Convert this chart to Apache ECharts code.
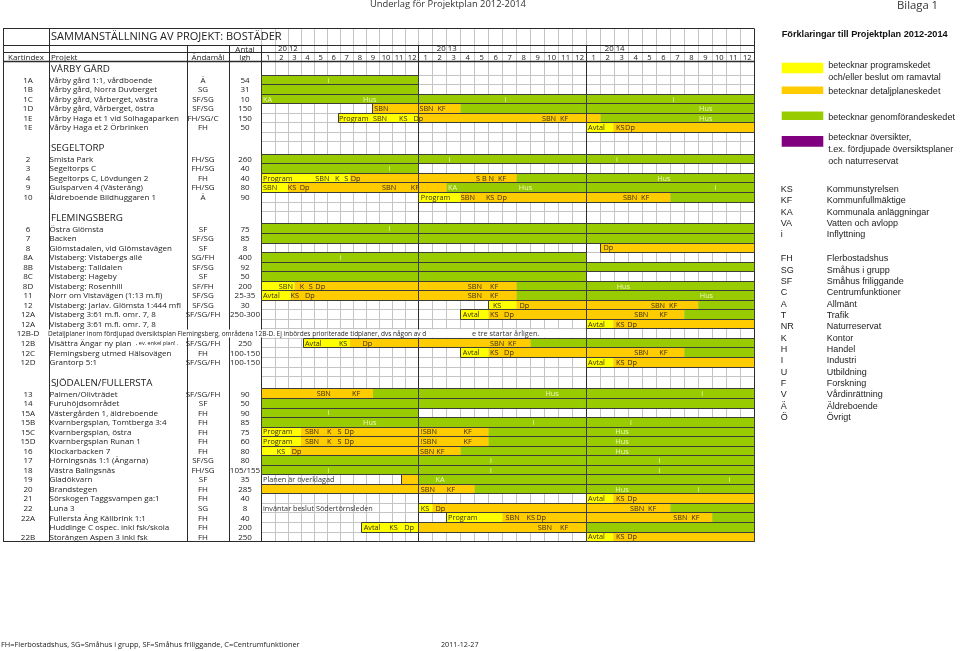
<!DOCTYPE html>
<html>
<head>
<meta charset="utf-8">
<script src="https://cdn.jsdelivr.net/npm/echarts@6/dist/echarts.min.js"></script>
<style>
  html, body { margin: 0; padding: 0; background: #fff; }
  #chart { width: 960px; height: 651px; }
</style>
</head>
<body>
<div id="chart"></div>
<script>
// header
const years = ['20 12', '20 13', '20 14'];
const months = ['1', '2', '3', '4', '5', '6', '7', '8', '9', '10', '11', '12'];

// table rows
const kartindex = ['', '1A', '1B', '1C', '1D', '1E', '1E', '',
  '', '2', '3', '4', '9', '10', '',
  '', '6', '7', '8', '8A', '8B', '8C', '8D', '11', '12', '12A', '12A', '12B-D', '12B', '12C', '12D', '',
  '', '13', '14', '15A', '15B', '15C', '15D', '16', '17', '18', '19', '20', '21', '22', '22A', '', '22B'];
const projekt = ['VÅRBY GÅRD', 'Vårby gård 1:1, vårdboende', 'Vårby gård, Norra Duvberget', 'Vårby gård, Vårberget, västra',
  'Vårby gård, Vårberget, östra', 'Vårby Haga et 1 vid Solhagaparken', 'Vårby Haga et 2 Örbrinken', '',
  'SEGELTORP', 'Smista Park', 'Segeltorps C', 'Segeltorps C, Lövdungen 2', 'Gulsparven 4 (Västeräng)', 'Äldreboende Bildhuggaren 1', '',
  'FLEMINGSBERG', 'Östra Glömsta', 'Backen', 'Glömstadalen, vid Glömstavägen', 'Vistaberg: Vistabergs allé', 'Vistaberg: Talldalen',
  'Vistaberg: Hageby', 'Vistaberg: Rosenhill', 'Norr om Vistavägen (1:13 m.fl)', 'Vistaberg: Jarlav. Glömsta 1:444 mfl',
  'Vistaberg 3:61 m.fl. omr. 7, 8', 'Vistaberg 3:61 m.fl. omr. 7, 8',
  'Detaljplaner inom fördjupad översiktsplan Flemingsberg, områdena 12B-D. Ej inbördes prioriterade tidplaner, dvs någon av d',
  'Visättra Ängar ny plan', 'Flemingsberg utmed Hälsovägen', 'Grantorp 5:1', '',
  'SJÖDALEN/FULLERSTA', 'Palmen/Olivträdet', 'Furuhöjdsområdet', 'Västergården 1, äldreboende', 'Kvarnbergsplan, Tomtberga 3:4',
  'Kvarnbergsplan, östra', 'Kvarnbergsplan Runan 1', 'Klockarbacken 7', 'Hörningsnäs 1:1 (Ängarna)', 'Västra Balingsnäs',
  'Gladökvarn', 'Brandstegen', 'Sörskogen Taggsvampen ga:1', 'Luna 3', 'Fullersta Äng Källbrink 1:1',
  'Huddinge C ospec. inkl fsk/skola', 'Storängen Aspen 3 inkl fsk'];
const projektNotes = { 28: ', ev. enkel plan! .' };
const andamal = ['', 'Ä', 'SG', 'SF/SG', 'SF/SG', 'FH/SG/C', 'FH', '',
  '', 'FH/SG', 'FH/SG', 'FH', 'FH/SG', 'Ä', '',
  '', 'SF', 'SF/SG', 'SF', 'SG/FH', 'SF/SG', 'SF', 'SF/FH', 'SF/SG', 'SF/SG', 'SF/SG/FH', '', '', 'SF/SG/FH', 'FH', 'SF/SG/FH', '',
  '', 'SF/SG/FH', 'SF', 'FH', 'FH', 'FH', 'FH', 'FH', 'SF/SG', 'FH/SG', 'SF', 'FH', 'FH', 'SG', 'FH', 'FH', 'FH'];
const antal = ['', '54', '31', '10', '150', '150', '50', '',
  '', '260', '40', '40', '80', '90', '',
  '', '75', '85', '8', '400', '92', '50', '200', '25-35', '30', '250-300', '', '', '250', '100-150', '100-150', '',
  '', '90', '50', '90', '85', '75', '60', '80', '80', '105/155', '35', '285', '40', '8', '40', '200', '250'];
const sectionRows = [0, 8, 15, 32];
const spanRow = 27;

// phase: 0 program/ramavtal, 1 detaljplan, 2 genomförande
// [row, from month, to month, phase], month 0 = start of 2012
const segments = [
  [1, 0, 12, 2], [2, 0, 12, 2], [3, 0, 36, 2],
  [4, 8.5, 15, 1], [4, 15, 36, 2],
  [5, 5.9, 12, 0], [5, 12, 25, 1], [5, 25, 36, 2],
  [6, 24, 25.9, 0], [6, 25.9, 36, 1],
  [9, 0, 36, 2], [10, 0, 12, 2],
  [11, 0, 6.75, 0], [11, 6.75, 19, 1], [11, 19, 36, 2],
  [12, 0, 2, 0], [12, 2, 14, 1], [12, 14, 36, 2],
  [13, 12, 15, 0], [13, 15, 30, 1], [13, 30, 36, 2],
  [16, 0, 36, 2], [17, 0, 36, 2], [18, 25, 36, 1],
  [19, 0, 24, 2], [20, 0, 36, 2], [21, 0, 24, 2],
  [22, 0, 2.5, 0], [22, 2.5, 19, 1], [22, 19, 36, 2],
  [23, 0, 2.2, 0], [23, 2.2, 19, 1], [23, 19, 36, 2],
  [24, 17, 19, 0], [24, 19, 32, 1], [24, 32, 36, 2],
  [25, 15, 17, 0], [25, 17, 31, 1], [25, 31, 36, 2],
  [26, 24, 25.9, 0], [26, 25.9, 36, 1],
  [28, 3.2, 6.75, 0], [28, 6.75, 20, 1], [28, 20, 36, 2],
  [29, 15, 17, 0], [29, 17, 31, 1], [29, 31, 36, 2],
  [30, 24, 25.9, 0], [30, 25.9, 36, 1],
  [33, 0, 8.5, 1], [33, 8.5, 36, 2],
  [34, 0, 36, 2], [35, 0, 12, 2], [36, 0, 36, 2],
  [37, 0, 3, 0], [37, 3, 17, 1], [37, 17, 36, 2],
  [38, 0, 3, 0], [38, 3, 17, 1], [38, 17, 36, 2],
  [39, 0, 2.2, 0], [39, 2.2, 15, 1], [39, 15, 36, 2],
  [40, 0, 36, 2], [41, 0, 36, 2],
  [42, 10.7, 12, 1], [42, 12, 36, 2],
  [43, 0, 16, 1], [43, 16, 36, 2],
  [44, 24, 25.9, 0], [44, 25.9, 36, 1],
  [45, 12, 13, 0], [45, 13, 30, 1], [45, 30, 36, 2],
  [46, 14, 18, 0], [46, 18, 33, 1], [46, 33, 36, 2],
  [47, 7.6, 12, 0], [47, 12, 24, 1], [47, 24, 36, 2],
  [48, 24, 25.9, 0], [48, 25.9, 36, 1]
];

// [row, month (left edge of text), text]
const barLabels = [
  [1, 5.05, 'i'],
  [3, 0.1, 'KA'], [3, 7.75, 'Hus'], [3, 18.15, 'i'], [3, 30.15, 'i'],
  [4, 8.6, 'SBN'], [4, 12.05, 'SBN  KF'], [4, 32.05, 'Hus'],
  [5, 5.9, 'Program'], [5, 8.5, 'SBN'], [5, 10.5, 'KS'], [5, 11.6, 'Dp'], [5, 20.8, 'SBN  KF'], [5, 32.05, 'Hus'],
  [6, 24.1, 'Avtal'], [6, 26.1, 'KS'], [6, 26.75, 'Dp'],
  [9, 14.15, 'i'], [9, 26.1, 'i'],
  [10, 9.7, 'i'],
  [11, 0.1, 'Program'], [11, 4.1, 'SBN'], [11, 5.6, 'K'], [11, 6.3, 'S'], [11, 6.8, 'Dp'], [11, 16.1, 'S B N  KF'], [11, 29.05, 'Hus'],
  [12, 0.1, 'SBN'], [12, 2.0, 'KS'], [12, 2.9, 'Dp'], [12, 9.2, 'SBN'], [12, 11.4, 'KF'], [12, 14.1, 'KA'], [12, 19.15, 'Hus'], [12, 33.15, 'i'],
  [13, 12.15, 'Program'], [13, 15.0, 'SBN'], [13, 16.8, 'KS'], [13, 17.6, 'Dp'], [13, 26.6, 'SBN  KF'],
  [16, 9.7, 'i'],
  [18, 25.2, 'Dp'],
  [19, 5.95, 'i'],
  [22, 1.3, 'SBN'], [22, 2.9, 'K'], [22, 3.6, 'S'], [22, 4.1, 'Dp'], [22, 15.5, 'SBN'], [22, 17.1, 'KF'], [22, 26.15, 'Hus'],
  [23, 0.1, 'Avtal'], [23, 2.2, 'KS'], [23, 3.3, 'Dp'], [23, 15.5, 'SBN'], [23, 17.1, 'KF'], [23, 32.1, 'Hus'],
  [24, 17.3, 'KS'], [24, 19.2, 'Dp'], [24, 28.6, 'SBN  KF'],
  [25, 15.15, 'Avtal'], [25, 17.1, 'KS'], [25, 18.1, 'Dp'], [25, 27.4, 'SBN'], [25, 29.2, 'KF'],
  [26, 24.1, 'Avtal'], [26, 26.1, 'KS'], [26, 26.9, 'Dp'],
  [27, 15.8, 'e tre startar årligen.'],
  [28, 3.3, 'Avtal'], [28, 5.9, 'KS'], [28, 7.7, 'Dp'], [28, 17.1, 'SBN  KF'],
  [29, 15.15, 'Avtal'], [29, 17.1, 'KS'], [29, 18.1, 'Dp'], [29, 27.4, 'SBN'], [29, 29.2, 'KF'],
  [30, 24.1, 'Avtal'], [30, 26.1, 'KS'], [30, 26.9, 'Dp'],
  [33, 4.2, 'SBN'], [33, 6.9, 'KF'], [33, 21.05, 'Hus'], [33, 32.2, 'i'],
  [35, 5.05, 'i'],
  [36, 7.75, 'Hus'], [36, 20.15, 'i'], [36, 27.1, 'i'],
  [37, 0.1, 'Program'], [37, 3.3, 'SBN'], [37, 5.0, 'K'], [37, 5.8, 'S'], [37, 6.3, 'Dp'], [37, 12.15, '!SBN'], [37, 15.2, 'KF'], [37, 26.05, 'Hus'],
  [38, 0.1, 'Program'], [38, 3.3, 'SBN'], [38, 5.0, 'K'], [38, 5.8, 'S'], [38, 6.3, 'Dp'], [38, 12.15, '!SBN'], [38, 15.2, 'KF'], [38, 26.05, 'Hus'],
  [39, 1.15, 'KS'], [39, 2.3, 'Dp'], [39, 12.1, 'SBN KF'], [39, 26.05, 'Hus'],
  [40, 17.1, 'i'], [40, 29.15, 'i'],
  [41, 5.05, 'i'], [41, 17.1, 'i'], [41, 29.15, 'i'],
  [42, 0.1, 'Planen är överklagad'], [42, 13.2, 'KA'], [42, 34.15, 'i'],
  [43, 12.15, 'SBN'], [43, 14.0, 'KF'], [43, 26.05, 'Hus'], [43, 31.95, 'i'],
  [44, 24.1, 'Avtal'], [44, 26.1, 'KS'], [44, 26.9, 'Dp'],
  [45, 0.1, 'inväntar beslut Södertörnsleden'], [45, 12.15, 'KS'], [45, 13.2, 'Dp'], [45, 27.1, 'SBN  KF'],
  [46, 14.1, 'Program'], [46, 18.2, 'SBN'], [46, 19.7, 'KS'], [46, 20.4, 'Dp'], [46, 30.2, 'SBN  KF'],
  [47, 7.8, 'Avtal'], [47, 9.75, 'KS'], [47, 10.9, 'Dp'], [47, 20.5, 'SBN'], [47, 22.1, 'KF'],
  [48, 24.1, 'Avtal'], [48, 26.1, 'KS'], [48, 26.9, 'Dp']
];

// legend
const phaseTexts = [['betecknar programskedet', 'och/eller beslut om ramavtal'], ['betecknar detaljplaneskedet'],
  ['betecknar genomförandeskedet'], ['betecknar översikter,', 't.ex. fördjupade översiktsplaner', 'och naturreservat']];
const abbrevA = [['KS', 'Kommunstyrelsen'], ['KF', 'Kommunfullmäktige'], ['KA', 'Kommunala anläggningar'],
  ['VA', 'Vatten och avlopp'], ['i', 'Inflyttning']];
const abbrevB = [['FH', 'Flerbostadshus'], ['SG', 'Småhus i grupp'], ['SF', 'Småhus friliggande'], ['C', 'Centrumfunktioner'],
  ['A', 'Allmänt'], ['T', 'Trafik'], ['NR', 'Naturreservat'], ['K', 'Kontor'], ['H', 'Handel'], ['I', 'Industri'],
  ['U', 'Utbildning'], ['F', 'Forskning'], ['V', 'Vårdinrättning'], ['Ä', 'Äldreboende'], ['Ö', 'Övrigt']];

const phaseColors = ['#ffff00', '#ffcc00', '#99cc00', '#800080'];
const FONT = '"Open Sans", "Noto Sans", sans-serif';
const ARIAL = '"Liberation Sans", Arial, sans-serif';
const DARK = '#2b2b2b';

// row heights in row units
const rowH = (i) => (i === 0 ? 1.38 : sectionRows.indexOf(i) >= 0 ? 1.3 : 1);
const rowTop = [];
let acc = 0;
projekt.forEach((_, i) => {
  rowTop.push(acc);
  acc += rowH(i);
});
const TOTAL = acc;
const HEAD = 3.512;
const TITLE_END = -1.782;
const YEAR_END = -0.996;

const yearGrids = [
  { left: 261.7, width: 157 },
  { left: 418.7, width: 168 },
  { left: 586.7, width: 167.5 },
];
const COL = { left: 3, kart: 49, proj: 187.3, use: 229.3, gantt: 261.7, right: 754.2 };
const crisp = (v) => Math.round(v - 0.5) + 0.5;

const phaseAt = (r, m) => {
  const s = segments.find((d) => d[0] === r && d[1] <= m && m < d[2]);
  return s ? s[3] : -1;
};

const one = [{ value: [6, 0] }];
const idx = (arr) => arr.map(() => ({ value: [6, 0] }));

const series = [];

yearGrids.forEach((g, gi) => {
  const lo = gi * 12;
  const segs = [];
  segments.forEach(([r, s, e, ph]) => {
    const a = Math.max(s, lo);
    const b = Math.min(e, lo + 12);
    if (b > a) segs.push([r, a - lo, b - lo, ph]);
  });
  // contiguous spans per row for the dark outline
  const spans = [];
  segs.forEach((d) => {
    const last = spans.length ? spans[spans.length - 1] : null;
    if (last && last[0] === d[0] && Math.abs(last[2] - d[1]) < 1e-6) last[2] = d[2];
    else spans.push([d[0], d[1], d[2]]);
  });
  const labs = barLabels.filter((d) => Math.floor(d[1] / 12) === gi);

  // light row lines
  series.push({
    type: 'custom', xAxisIndex: gi, yAxisIndex: gi, z: 1, silent: true, data: one,
    renderItem(params, api) {
      const children = [];
      const x0 = api.coord([0, 0])[0];
      const x1 = api.coord([12, 0])[0];
      projekt.forEach((_, i) => {
        const y = crisp(api.coord([0, rowTop[i] + rowH(i)])[1]);
        children.push({ type: 'line', shape: { x1: x0, y1: y, x2: x1, y2: y }, style: { stroke: '#c4c4c4', lineWidth: 1 } });
      });
      return { type: 'group', children };
    },
  });

  // bars
  series.push({
    type: 'custom', xAxisIndex: gi, yAxisIndex: gi, z: 3, silent: true, data: idx(segs),
    renderItem(params, api) {
      const d = segs[params.dataIndex];
      const p0 = api.coord([d[1], rowTop[d[0]]]);
      const p1 = api.coord([d[2], rowTop[d[0]] + rowH(d[0])]);
      return {
        type: 'rect',
        shape: { x: p0[0], y: crisp(p0[1]), width: p1[0] - p0[0], height: crisp(p1[1]) - crisp(p0[1]) },
        style: { fill: phaseColors[d[3]] },
      };
    },
  });

  // outlines
  series.push({
    type: 'custom', xAxisIndex: gi, yAxisIndex: gi, z: 4, silent: true, data: idx(spans),
    renderItem(params, api) {
      const d = spans[params.dataIndex];
      const p0 = api.coord([d[1], rowTop[d[0]]]);
      const p1 = api.coord([d[2], rowTop[d[0]] + rowH(d[0])]);
      const x0 = crisp(p0[0]);
      const y0 = crisp(p0[1]);
      return {
        type: 'rect',
        shape: { x: x0, y: y0, width: crisp(p1[0]) - x0, height: crisp(p1[1]) - y0 },
        style: { fill: null, stroke: '#3c3c3c', lineWidth: 1 },
      };
    },
  });

  // labels inside the bars
  series.push({
    type: 'custom', xAxisIndex: gi, yAxisIndex: gi, z: 7, silent: true, data: idx(labs),
    renderItem(params, api) {
      const d = labs[params.dataIndex];
      const ph = phaseAt(d[0], d[1] + 0.05);
      const p = api.coord([d[1] - lo, rowTop[d[0]] + rowH(d[0]) / 2]);
      return {
        type: 'text', x: p[0], y: p[1] + 0.5,
        style: {
          text: d[2], font: '7.3px ' + FONT, textAlign: 'left', textVerticalAlign: 'middle',
          fill: ph === 2 ? '#eef5c4' : ph === -1 ? '#333' : '#3a2e00',
        },
      };
    },
  });

  // month numbers and year
  series.push({
    type: 'custom', xAxisIndex: gi, yAxisIndex: gi, z: 7, silent: true, data: idx(months),
    renderItem(params, api) {
      const i = params.dataIndex;
      const p = api.coord([i + 0.5, YEAR_END / 2]);
      const children = [{
        type: 'text', x: p[0], y: p[1] + 0.5,
        style: { text: months[i], font: '7.6px ' + FONT, textAlign: 'center', textVerticalAlign: 'middle', fill: '#222' },
      }];
      if (i === 0) {
        const q = api.coord([2.0, (TITLE_END + YEAR_END) / 2]);
        children.push({
          type: 'text', x: q[0], y: q[1] + 0.5,
          style: { text: years[gi], font: '7.8px ' + FONT, textAlign: 'center', textVerticalAlign: 'middle', fill: '#222' },
        });
      }
      return { type: 'group', children };
    },
  });
});

// table frame
series.push({
  type: 'custom', xAxisIndex: 0, yAxisIndex: 0, z: 2, silent: true, data: one,
  renderItem(params, api) {
    const y = (v) => crisp(api.coord([0, v])[1]);
    const yTop = y(-HEAD);
    const yT = y(TITLE_END);
    const yY = y(YEAR_END);
    const yD = y(0);
    const yB = y(TOTAL);
    const L = (x1, y1, x2, y2, w) => ({ type: 'line', shape: { x1, y1, x2, y2 }, style: { stroke: DARK, lineWidth: w || 1 } });
    const cx = (v) => crisp(v);
    const children = [
      L(COL.left, yTop, COL.right, yTop),
      L(COL.left, yT, COL.right, yT),
      L(COL.left, yY, COL.right, yY),
      L(COL.left, yD, COL.right, yD, 1.6),
      L(COL.left, yB, COL.right, yB),
      L(cx(COL.left), yTop, cx(COL.left), yB),
      L(cx(COL.right), yTop, cx(COL.right), yB),
      L(cx(COL.kart), yTop, cx(COL.kart), yB),
      L(cx(COL.proj), yT, cx(COL.proj), yB),
      L(cx(COL.use), yT, cx(COL.use), yB),
      L(cx(COL.gantt), yT, cx(COL.gantt), yB),
      L(cx(yearGrids[1].left), yT, cx(yearGrids[1].left), yB),
      L(cx(yearGrids[2].left), yT, cx(yearGrids[2].left), yB),
    ];
    return { type: 'group', children };
  },
});

// mask behind the spanning note row
series.push({
  type: 'custom', xAxisIndex: 0, yAxisIndex: 0, z: 5, silent: true, data: one,
  renderItem(params, api) {
    const y0 = crisp(api.coord([0, rowTop[spanRow]])[1]) + 1;
    const y1 = crisp(api.coord([0, rowTop[spanRow] + 1])[1]) - 1;
    return {
      type: 'rect',
      shape: { x: COL.kart - 0.5, y: y0, width: yearGrids[2].left - COL.kart, height: y1 - y0 },
      style: { fill: '#fff' },
    };
  },
});

// left table texts
series.push({
  type: 'custom', xAxisIndex: 0, yAxisIndex: 0, z: 7, silent: true, data: idx(projekt),
  renderItem(params, api) {
    const i = params.dataIndex;
    const y = api.coord([0, rowTop[i] + rowH(i) / 2])[1] + 0.5;
    const t = (text, x, align, font) => ({
      type: 'text', x, y,
      style: { text, font: font || '8px ' + FONT, textAlign: align, textVerticalAlign: 'middle', fill: '#222' },
    });
    if (sectionRows.indexOf(i) >= 0) {
      return t(projekt[i], COL.kart + 2, 'left', '9.8px ' + FONT);
    }
    const children = [
      t(kartindex[i], 28, 'center'),
      i === spanRow ? t(projekt[i], COL.kart - 1, 'left', '6.5px ' + FONT) : t(projekt[i], COL.kart + 0.5, 'left'),
      t(andamal[i], 203, 'center'),
      t(antal[i], 245, 'center'),
    ];
    if (projektNotes[i]) children.push(t(projektNotes[i], 136, 'left', '5.5px ' + FONT));
    return { type: 'group', children };
  },
});

// header texts in the left columns
series.push({
  type: 'custom', xAxisIndex: 0, yAxisIndex: 0, z: 7, silent: true, data: one,
  renderItem(params, api) {
    const y = (v) => api.coord([0, v])[1] + 0.5;
    const yTitle = y((-HEAD + TITLE_END) / 2);
    const yYear = y((TITLE_END + YEAR_END) / 2);
    const yMonth = y(YEAR_END / 2);
    const t = (text, x, yy, align, font) => ({
      type: 'text', x, y: yy,
      style: { text, font: font || '8px ' + FONT, textAlign: align, textVerticalAlign: 'middle', fill: '#222' },
    });
    return {
      type: 'group',
      children: [
        t('SAMMANSTÄLLNING AV PROJEKT: BOSTÄDER', COL.kart + 2, yTitle, 'left', '11px ' + FONT),
        t('Antal', 245, yYear, 'center'),
        t('Kartindex', 26, yMonth, 'center'),
        t('Projekt', COL.kart + 2, yMonth, 'left'),
        t('Ändamål', 208, yMonth, 'center'),
        t('lgh', 245, yMonth, 'center'),
      ],
    };
  },
});

// right-hand legend and page texts
const graphic = [
  { type: 'text', left: 370, top: 0, style: { text: 'Underlag för Projektplan 2012-2014', font: '9.4px ' + FONT, fill: '#333' } },
  { type: 'text', left: 897, top: 0, style: { text: 'Bilaga 1', font: '11.3px ' + FONT, fill: '#333' } },
  { type: 'text', left: 781.7, top: 30, style: { text: 'Förklaringar till Projektplan 2012-2014', font: 'bold 9.2px ' + ARIAL, fill: '#111' } },
  { type: 'text', left: 1, top: 641, style: { text: 'FH=Flerbostadshus, SG=Småhus i grupp, SF=Småhus friliggande, C=Centrumfunktioner', font: '7.4px ' + FONT, fill: '#222' } },
  { type: 'text', left: 441, top: 641, style: { text: '2011-12-27', font: '7.2px ' + FONT, fill: '#222' } },
];
const swatch = [[62.7, 10.6], [86.5, 7.5], [111.5, 8.5], [136, 10.7]];
const textY = [[66.7, 79], [92.7], [119], [139, 150.7, 162.7]];
phaseTexts.forEach((lines, i) => {
  graphic.push({ type: 'rect', left: 781.7, top: swatch[i][0], shape: { width: 41.6, height: swatch[i][1] }, style: { fill: phaseColors[i] } });
  lines.forEach((s, j) => {
    graphic.push({ type: 'text', left: 828.3, top: textY[i][j] - 5.5, style: { text: s, font: '9px ' + ARIAL, fill: '#222' } });
  });
});
abbrevA.forEach((d, i) => {
  graphic.push({ type: 'text', left: 780.7, top: 185.2 + i * 11.3, style: { text: d[0], font: '9px ' + ARIAL, fill: '#222' } });
  graphic.push({ type: 'text', left: 826.7, top: 185.2 + i * 11.3, style: { text: d[1], font: '9px ' + ARIAL, fill: '#222' } });
});
abbrevB.forEach((d, i) => {
  graphic.push({ type: 'text', left: 780.7, top: 254.5 + i * 11.32, style: { text: d[0], font: '9px ' + ARIAL, fill: '#222' } });
  graphic.push({ type: 'text', left: 826.7, top: 254.5 + i * 11.32, style: { text: d[1], font: '9px ' + ARIAL, fill: '#222' } });
});

const chart = echarts.init(document.getElementById('chart'));
chart.setOption({
  animation: false,
  backgroundColor: '#fff',
  grid: yearGrids.map((g) => ({ left: g.left, width: g.width, top: 28.5, height: 513.1 })),
  xAxis: yearGrids.map((g, gi) => ({
    type: 'value', gridIndex: gi, min: 0, max: 12, interval: 1,
    axisLine: { show: false }, axisTick: { show: false }, axisLabel: { show: false },
    splitLine: { show: true, lineStyle: { color: '#c4c4c4', width: 1 } },
  })),
  yAxis: yearGrids.map((g, gi) => ({
    type: 'value', gridIndex: gi, min: -HEAD, max: TOTAL, inverse: true,
    axisLine: { show: false }, axisTick: { show: false }, axisLabel: { show: false }, splitLine: { show: false },
  })),
  graphic,
  series,
});
</script>
</body>
</html>
